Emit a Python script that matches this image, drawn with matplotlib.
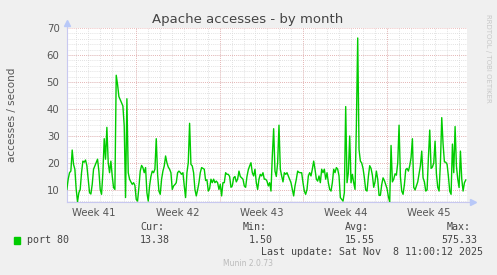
import numpy as np
import matplotlib
matplotlib.use("Agg")
import matplotlib.pyplot as plt

# munin "by month" graph, apache accesses on port 80
title = "Apache accesses - by month"
ylabel = "accesses / second"
week_labels = ["Week 41", "Week 42", "Week 43", "Week 44", "Week 45"]
week_starts = [5.78, 12.78, 19.78, 26.78]  # days from left edge of graph
span_days = 33.4
step_days = 0.1114  # sample spacing

port80 = [
    10.2, 14.0, 16.4, 17.0, 24.8, 19.5, 17.7, 10.2, 5.7, 9.0,
    10.2, 16.4, 20.7, 20.3, 21.1, 19.0, 14.0, 9.0, 8.5, 12.0,
    17.7, 18.9, 20.0, 21.4, 17.0, 10.2, 8.4, 16.4, 29.0, 21.4,
    33.2, 20.1, 16.4, 20.7, 15.2, 10.9, 10.2, 52.5, 49.1, 44.6,
    43.5, 42.3, 41.1, 33.7, 7.2, 43.8, 16.4, 14.0, 13.0, 12.1,
    12.7, 11.7, 6.5, 5.9, 11.0, 17.0, 19.1, 18.3, 16.4, 18.3,
    9.0, 5.9, 11.5, 15.0, 17.0, 16.4, 17.7, 29.0, 15.8, 9.6,
    8.4, 14.0, 17.0, 18.9, 22.6, 20.1, 18.5, 17.7, 16.4, 10.2,
    11.5, 12.0, 12.7, 16.4, 17.0, 16.5, 15.8, 16.4, 11.5, 7.2,
    16.4, 20.1, 34.7, 19.5, 18.9, 16.4, 10.2, 7.8, 10.0, 12.7,
    16.4, 18.3, 18.0, 17.7, 13.5, 13.8, 9.6, 10.5, 14.0, 12.7,
    14.0, 12.7, 13.3, 12.7, 10.2, 12.1, 7.8, 12.7, 12.7, 16.4,
    15.8, 15.8, 15.0, 11.0, 11.5, 14.5, 15.0, 13.0, 14.0, 17.0,
    15.0, 14.5, 14.0, 11.5, 11.0, 15.0, 17.5, 18.9, 20.1, 16.4,
    15.2, 17.7, 12.7, 10.2, 14.0, 15.8, 15.2, 16.4, 14.0, 14.0,
    13.3, 11.5, 12.7, 9.6, 22.6, 32.7, 17.0, 15.0, 20.1, 34.0,
    17.7, 15.2, 13.0, 16.4, 15.8, 16.4, 15.2, 14.0, 12.7, 10.2,
    7.8, 11.5, 14.0, 17.0, 16.5, 16.4, 16.4, 12.7, 9.6, 8.4,
    10.2, 15.2, 16.4, 15.2, 17.7, 20.7, 17.7, 14.0, 13.3, 15.2,
    12.7, 17.7, 16.4, 17.7, 14.0, 16.4, 12.7, 10.2, 9.6, 12.7,
    17.7, 16.4, 18.3, 17.7, 15.2, 7.2, 6.5, 5.9, 9.0, 40.9,
    12.7, 16.4, 30.0, 12.7, 15.8, 12.7, 10.2, 33.7, 66.3, 25.0,
    20.7, 20.0, 18.0, 14.5, 10.0, 9.6, 15.0, 19.0, 18.0, 15.5,
    11.0, 13.0, 17.0, 14.0, 8.0, 8.0, 12.0, 14.5, 13.5, 12.0,
    10.5, 7.5, 5.6, 26.5, 13.0, 14.0, 16.0, 15.5, 20.0, 34.0,
    15.0, 9.6, 8.4, 12.0, 17.5, 18.0, 17.0, 19.0, 22.0, 29.0,
    11.0, 10.0, 11.5, 13.0, 16.0, 19.0, 24.4, 14.5, 13.0, 9.6,
    10.0, 22.0, 32.2, 18.0, 18.5, 20.0, 28.1, 16.0, 11.0, 9.6,
    20.0, 36.8, 27.0, 20.4, 20.3, 19.5, 15.0, 9.5, 8.4, 27.0,
    16.4, 33.5, 18.9, 14.0, 10.9, 24.4, 14.0, 9.6, 12.7, 13.7,
]

legend_name = "port 80"
cur, vmin, avg, vmax = "13.38", "1.50", "15.55", "575.33"
last_update = "Last update: Sat Nov  8 11:00:12 2025"
footer = "Munin 2.0.73"
side_text = "RRDTOOL / TOBI OETIKER"

W, H = 497, 275
fig = plt.figure(figsize=(W / 100, H / 100), dpi=100, facecolor="#F0F0F0")
ax = fig.add_axes([66.5 / W, 1 - 202 / H, 400 / W, 174 / H])
ax.set_facecolor("#FFFFFF")

t = 0.03 + np.arange(len(port80)) * step_days
ax.plot(t, port80, color="#00CC00", lw=1.0, zorder=3)

ax.set_xlim(0, span_days)
ax.set_ylim(5.55, 70)

# grid: grey dotted every 2 / every day, red dotted at majors
for y in np.arange(6, 70, 2):
    ax.axhline(y, color="#d8d8d8", lw=0.6, ls=(0, (1, 1.5)), zorder=1)
for y in range(10, 71, 10):
    ax.axhline(y, color="#e8a8a8", lw=0.6, ls=(0, (1, 1.5)), zorder=2)
for d in np.arange(week_starts[0] % 1, span_days, 1.0):
    ax.axvline(d, color="#d8d8d8", lw=0.6, ls=(0, (1, 1.5)), zorder=1)
for d in week_starts:
    ax.axvline(d, color="#e8a8a8", lw=0.6, ls=(0, (1, 1.5)), zorder=2)

ax.set_yticks(range(10, 71, 10))
ax.set_yticklabels([str(v) for v in range(10, 71, 10)])
centers = [week_starts[0] - 3.5 + 7 * i for i in range(len(week_labels))]
ax.set_xticks(centers)
ax.set_xticklabels(week_labels)
ax.tick_params(axis="both", length=0, labelsize=7.3, labelcolor="#555555")
ax.tick_params(axis="y", pad=5)
ax.tick_params(axis="x", pad=4)

for s in ["top", "right"]:
    ax.spines[s].set_visible(False)
for s in ["left", "bottom"]:
    ax.spines[s].set_color("#c8c8f0")
    ax.spines[s].set_linewidth(0.8)
# axis arrows
ax.plot([1.0, 1.014], [0, 0], transform=ax.transAxes, color="#c8c8f0", lw=0.8, clip_on=False)
ax.plot([1.016], [0], marker=">", ms=4, color="#b8c8f8", transform=ax.transAxes, clip_on=False)
ax.plot([0, 0], [1.0, 1.025], transform=ax.transAxes, color="#c8c8f0", lw=0.8, clip_on=False)
ax.plot([0], [1.03], marker="^", ms=4, color="#b8c8f8", transform=ax.transAxes, clip_on=False)

fig.text(248 / W, 1 - 19 / H, title, ha="center", va="center", fontsize=9.5, color="#444444")
fig.text(12 / W, 1 - 115 / H, ylabel, ha="center", va="center", rotation=90,
         fontsize=7.5, color="#555555")
fig.text(488 / W, 1 - 58 / H, side_text, ha="center", va="center", rotation=270,
         fontsize=5, color="#c8c8c8")

mono = dict(family="DejaVu Sans Mono", fontsize=7.2, color="#444444", va="center")
fig.patches.append(plt.Rectangle((14 / W, 1 - 244 / H), 6 / W, 7 / H, transform=fig.transFigure,
                                 color="#00CC00", figure=fig))
fig.text(27 / W, 1 - 240 / H, legend_name, **mono)
fig.text(140 / W, 1 - 227 / H, "Cur:", **mono)
fig.text(140 / W, 1 - 240 / H, cur, **mono)
fig.text(243 / W, 1 - 227 / H, "Min:", **mono)
fig.text(249 / W, 1 - 240 / H, vmin, **mono)
fig.text(345 / W, 1 - 227 / H, "Avg:", **mono)
fig.text(345 / W, 1 - 240 / H, avg, **mono)
fig.text(447 / W, 1 - 227 / H, "Max:", **mono)
fig.text(441 / W, 1 - 240 / H, vmax, **mono)
fig.text(483 / W, 1 - 252 / H, last_update, ha="right", va="center",
         family="DejaVu Sans Mono", fontsize=7.2, color="#444444")
fig.text(248 / W, 1 - 264 / H, footer, ha="center", va="center", fontsize=5.5, color="#bbbbbb")

fig.savefig("out.png", dpi=100, facecolor=fig.get_facecolor())
